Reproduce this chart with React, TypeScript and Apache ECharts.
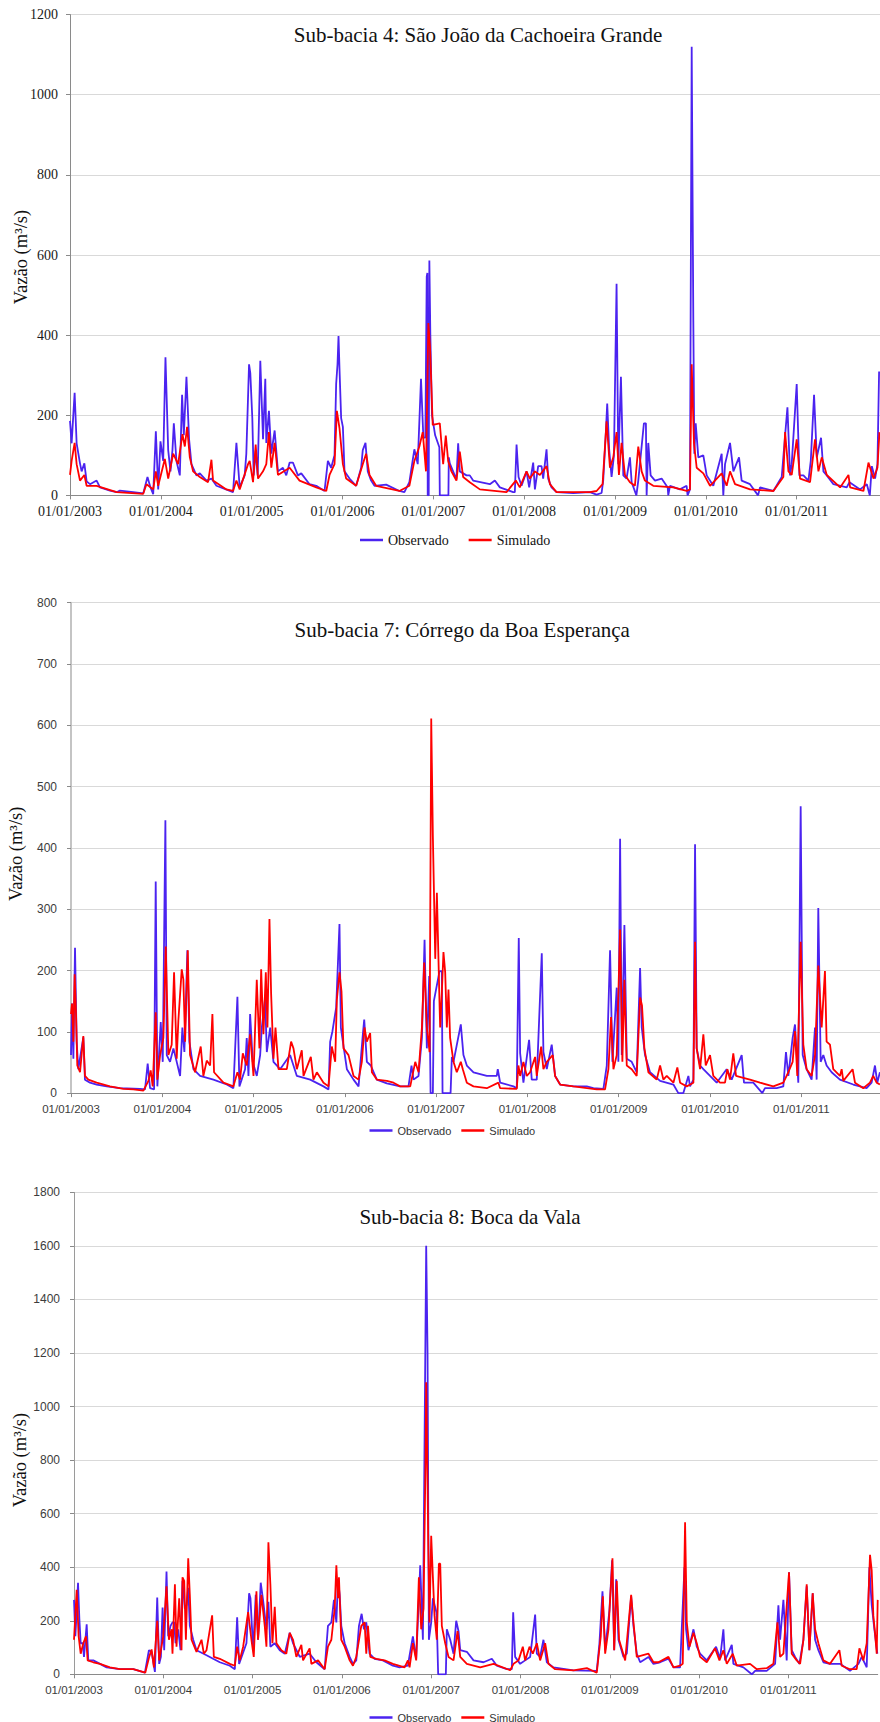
import React, { useEffect, useRef } from "react";
import * as echarts from "echarts";

// ---------- DATA (x = decimal year, y = vazão m³/s) ----------
const yearTicks = [2003, 2004, 2005, 2006, 2007, 2008, 2009, 2010, 2011];
const titles = [
  "Sub-bacia 4: São João da Cachoeira Grande",
  "Sub-bacia 7: Córrego da Boa Esperança",
  "Sub-bacia 8: Boca da Vala",
];
const yAxisName = "Vazão (m³/s)";
const seriesNames = ["Observado", "Simulado"];

const obs1: [number, number][] = [
  [2003.000,186],[2003.018,130],[2003.051,256],[2003.073,130],[2003.110,80],[2003.128,60],[2003.158,80],[2003.183,35],[2003.220,28],[2003.293,37],[2003.330,20],[2003.440,12],[2003.513,8],[2003.549,12],[2003.696,8],[2003.806,5],[2003.853,46],[2003.886,20],[2003.916,3],[2003.945,160],[2003.971,15],[2003.996,135],
  [2004.026,86],[2004.051,345],[2004.081,113],[2004.106,60],[2004.128,113],[2004.143,180],[2004.172,86],[2004.209,50],[2004.234,251],[2004.253,150],[2004.282,296],[2004.311,140],[2004.337,78],[2004.392,50],[2004.429,55],[2004.502,37],[2004.557,42],[2004.612,24],[2004.795,8],[2004.832,131],[2004.868,20],[2004.923,50],[2004.941,104],[2004.971,327],[2004.985,305],
  [2005.007,193],[2005.022,50],[2005.044,111],[2005.066,50],[2005.095,336],[2005.125,140],[2005.150,291],[2005.161,131],[2005.190,211],[2005.216,104],[2005.253,162],[2005.289,60],[2005.344,69],[2005.381,50],[2005.418,82],[2005.454,82],[2005.509,50],[2005.546,55],[2005.637,28],[2005.711,24],[2005.802,11],[2005.839,86],[2005.875,69],[2005.912,100],[2005.930,278],[2005.945,327],[2005.956,398],[2005.967,314],[2005.985,193],
  [2006.004,171],[2006.022,60],[2006.077,42],[2006.150,24],[2006.205,69],[2006.223,113],[2006.253,131],[2006.278,60],[2006.315,37],[2006.352,24],[2006.480,27],[2006.626,11],[2006.681,8],[2006.736,33],[2006.791,115],[2006.828,78],[2006.864,291],[2006.890,144],[2006.912,144],[2006.927,546],[2006.934,555],[2006.938,0],[2006.949,0],[2006.956,586],[2006.967,400],[2006.985,200],
  [2007.020,150],[2007.066,120],[2007.071,0],[2007.166,0],[2007.170,95],[2007.181,80],[2007.254,40],[2007.273,130],[2007.291,60],[2007.365,50],[2007.401,50],[2007.438,37],[2007.622,28],[2007.677,37],[2007.732,20],[2007.879,8],[2007.897,8],[2007.916,127],[2007.938,46],[2007.971,24],
  [2008.026,60],[2008.055,20],[2008.099,82],[2008.118,15],[2008.154,73],[2008.191,73],[2008.209,42],[2008.246,115],[2008.264,42],[2008.301,20],[2008.356,8],[2008.540,6],[2008.723,8],[2008.797,2],[2008.852,6],[2008.870,37],[2008.896,144],[2008.914,229],[2008.936,113],[2008.962,46],[2008.988,100],
  [2009.017,528],[2009.036,78],[2009.065,296],[2009.091,50],[2009.127,42],[2009.164,95],[2009.183,33],[2009.235,0],[2009.256,37],[2009.318,180],[2009.340,180],[2009.348,0],[2009.366,131],[2009.392,50],[2009.440,37],[2009.513,42],[2009.580,20],[2009.586,0],[2009.605,24],[2009.715,15],[2009.788,24],[2009.799,0],[2009.825,15],[2009.844,1120],[2009.862,434],[2009.873,104],[2009.888,180],[2009.917,95],[2009.972,100],
  [2010.009,50],[2010.082,24],[2010.174,104],[2010.192,0],[2010.211,78],[2010.266,131],[2010.303,60],[2010.365,95],[2010.394,37],[2010.486,28],[2010.575,0],[2010.596,20],[2010.743,11],[2010.835,46],[2010.872,149],[2010.898,220],[2010.927,50],[2010.945,78],
  [2011.000,278],[2011.030,50],[2011.074,50],[2011.129,37],[2011.155,86],[2011.191,251],[2011.221,95],[2011.268,144],[2011.294,60],[2011.331,50],[2011.404,28],[2011.551,20],[2011.581,33],[2011.698,15],[2011.772,28],[2011.805,0],[2011.827,73],[2011.863,42],[2011.889,78],[2011.907,309],
];

const sim1: [number, number][] = [
  [2003.000,51],[2003.018,86],[2003.051,131],[2003.073,78],[2003.110,37],[2003.158,51],[2003.183,24],[2003.293,24],[2003.513,8],[2003.806,4],[2003.842,28],[2003.916,15],[2003.945,60],[2003.971,24],
  [2004.044,91],[2004.081,42],[2004.136,104],[2004.190,78],[2004.238,153],[2004.264,122],[2004.289,171],[2004.319,95],[2004.355,60],[2004.429,46],[2004.520,33],[2004.557,89],[2004.575,37],[2004.722,15],[2004.795,11],[2004.832,37],[2004.868,15],[2004.960,78],[2004.978,86],
  [2005.015,33],[2005.044,127],[2005.070,42],[2005.125,60],[2005.161,78],[2005.190,158],[2005.216,69],[2005.253,131],[2005.289,51],[2005.418,69],[2005.527,37],[2005.711,20],[2005.821,11],[2005.857,51],[2005.912,78],[2005.938,211],[2005.967,167],
  [2006.004,78],[2006.040,42],[2006.150,24],[2006.223,78],[2006.260,104],[2006.297,51],[2006.370,24],[2006.626,11],[2006.736,24],[2006.791,86],[2006.846,122],[2006.883,158],[2006.919,60],[2006.945,430],[2006.963,372],[2006.993,176],
  [2007.071,180],[2007.108,78],[2007.137,149],[2007.163,86],[2007.199,60],[2007.254,37],[2007.291,109],[2007.328,46],[2007.401,33],[2007.512,15],[2007.805,8],[2007.908,37],[2007.952,20],
  [2008.026,60],[2008.062,42],[2008.118,60],[2008.173,51],[2008.246,73],[2008.283,28],[2008.356,8],[2008.723,8],[2008.797,11],[2008.863,28],[2008.907,185],[2008.944,69],[2008.981,95],
  [2009.017,158],[2009.043,51],[2009.072,131],[2009.109,51],[2009.164,33],[2009.219,24],[2009.256,122],[2009.293,60],[2009.329,37],[2009.421,24],[2009.642,20],[2009.788,11],[2009.825,15],[2009.844,327],[2009.869,131],[2009.899,69],[2009.972,55],
  [2010.046,24],[2010.174,55],[2010.229,24],[2010.266,60],[2010.321,28],[2010.486,15],[2010.743,11],[2010.853,46],[2010.872,158],[2010.909,60],[2010.945,51],
  [2011.000,140],[2011.037,42],[2011.147,33],[2011.202,140],[2011.239,60],[2011.276,95],[2011.331,51],[2011.478,20],[2011.570,51],[2011.588,20],[2011.735,11],[2011.790,82],[2011.845,42],[2011.889,69],[2011.911,158],
];

const obs2: [number, number][] = [
  [2003.000,62],[2003.011,146],[2003.026,56],[2003.044,237],[2003.062,84],[2003.080,39],[2003.135,91],[2003.153,22],[2003.208,17],[2003.281,14],[2003.391,11],[2003.537,8],[2003.756,7],[2003.811,6],[2003.840,48],[2003.866,8],[2003.910,6],[2003.928,345],[2003.946,11],[2003.983,116],
  [2004.005,51],[2004.034,445],[2004.049,62],[2004.085,51],[2004.122,73],[2004.158,51],[2004.195,28],[2004.220,107],[2004.242,67],[2004.275,233],[2004.297,84],[2004.341,39],[2004.414,28],[2004.560,22],[2004.706,14],[2004.779,8],[2004.823,157],[2004.845,11],[2004.907,39],[2004.925,90],[2004.944,28],[2004.962,129],[2004.991,51],
  [2005.035,28],[2005.072,62],[2005.090,107],[2005.126,154],[2005.145,67],[2005.182,107],[2005.218,51],[2005.291,39],[2005.400,62],[2005.474,28],[2005.620,22],[2005.766,11],[2005.821,6],[2005.839,84],[2005.864,101],[2005.905,140],[2005.941,276],[2005.956,107],[2005.978,84],
  [2006.022,39],[2006.095,22],[2006.150,11],[2006.197,96],[2006.212,120],[2006.241,51],[2006.284,45],[2006.350,22],[2006.460,16],[2006.606,11],[2006.697,11],[2006.730,45],[2006.752,22],[2006.807,28],[2006.844,90],[2006.873,250],[2006.898,73],[2006.924,191],[2006.939,0],[2006.964,0],[2006.975,150],
  [2007.037,199],[2007.062,199],[2007.070,0],[2007.158,0],[2007.172,59],[2007.190,51],[2007.270,112],[2007.299,62],[2007.336,45],[2007.409,34],[2007.555,28],[2007.664,28],[2007.675,39],[2007.701,17],[2007.847,11],[2007.883,8],[2007.905,253],[2007.920,65],[2007.956,17],
  [2008.018,87],[2008.047,22],[2008.102,22],[2008.157,228],[2008.175,67],[2008.212,39],[2008.266,79],[2008.303,28],[2008.358,14],[2008.504,11],[2008.650,11],[2008.723,8],[2008.832,7],[2008.869,45],[2008.905,233],[2008.931,51],[2008.978,172],[2008.996,51],
  [2009.015,415],[2009.033,62],[2009.062,274],[2009.088,56],[2009.142,51],[2009.197,34],[2009.234,204],[2009.252,107],[2009.288,62],[2009.343,34],[2009.453,20],[2009.599,14],[2009.653,0],[2009.708,0],[2009.763,28],[2009.781,11],[2009.818,22],[2009.836,406],[2009.854,73],[2009.891,45],[2009.927,39],
  [2010.000,28],[2010.073,17],[2010.182,39],[2010.237,22],[2010.347,62],[2010.372,17],[2010.474,17],[2010.573,0],[2010.602,8],[2010.730,8],[2010.803,11],[2010.832,67],[2010.858,28],[2010.905,90],[2010.931,112],[2010.967,17],[2010.993,468],
  [2011.015,62],[2011.058,39],[2011.113,22],[2011.150,107],[2011.168,22],[2011.186,302],[2011.212,51],[2011.241,62],[2011.277,45],[2011.332,34],[2011.423,22],[2011.569,14],[2011.715,8],[2011.770,17],[2011.807,45],[2011.832,17],[2011.861,34],
];

const sim2: [number, number][] = [
  [2003.000,129],[2003.011,146],[2003.026,84],[2003.040,194],[2003.055,129],[2003.069,45],[2003.099,34],[2003.135,93],[2003.153,28],[2003.190,22],[2003.281,17],[2003.427,11],[2003.574,7],[2003.683,6],[2003.793,4],[2003.848,20],[2003.873,37],[2003.895,11],[2003.928,132],[2003.946,22],[2003.976,62],
  [2004.012,90],[2004.038,239],[2004.067,62],[2004.103,79],[2004.129,197],[2004.158,56],[2004.176,118],[2004.213,202],[2004.231,185],[2004.250,84],[2004.279,233],[2004.304,62],[2004.359,34],[2004.421,76],[2004.450,28],[2004.487,53],[2004.524,45],[2004.549,129],[2004.567,34],[2004.670,17],[2004.779,11],[2004.823,34],[2004.852,22],[2004.882,65],[2004.925,45],[2004.962,96],[2004.999,28],
  [2005.035,185],[2005.064,73],[2005.083,202],[2005.108,96],[2005.134,197],[2005.152,107],[2005.174,284],[2005.192,163],[2005.218,56],[2005.240,107],[2005.273,39],[2005.364,39],[2005.411,84],[2005.437,73],[2005.474,39],[2005.528,70],[2005.547,28],[2005.627,59],[2005.656,22],[2005.693,34],[2005.766,17],[2005.821,11],[2005.857,76],[2005.894,51],[2005.912,152],[2005.941,197],[2005.963,166],[2005.985,73],
  [2006.040,62],[2006.095,28],[2006.150,22],[2006.186,51],[2006.215,107],[2006.241,84],[2006.277,98],[2006.296,34],[2006.350,22],[2006.460,20],[2006.533,17],[2006.606,11],[2006.716,11],[2006.771,51],[2006.807,34],[2006.844,107],[2006.869,213],[2006.898,107],[2006.928,67],[2006.946,611],[2006.964,419],[2006.990,219],
  [2007.008,327],[2007.037,146],[2007.044,107],[2007.062,163],[2007.080,230],[2007.099,197],[2007.117,107],[2007.135,169],[2007.153,90],[2007.190,51],[2007.226,34],[2007.270,51],[2007.292,39],[2007.336,17],[2007.409,11],[2007.555,8],[2007.682,17],[2007.701,8],[2007.883,7],[2007.901,45],[2007.920,28],[2007.956,51],[2007.993,28],
  [2008.029,34],[2008.084,59],[2008.102,28],[2008.150,76],[2008.175,39],[2008.212,51],[2008.277,62],[2008.303,28],[2008.358,14],[2008.504,11],[2008.759,6],[2008.850,6],[2008.887,39],[2008.916,124],[2008.942,39],[2008.978,62],
  [2009.015,267],[2009.040,51],[2009.062,185],[2009.088,45],[2009.142,39],[2009.197,28],[2009.234,156],[2009.255,143],[2009.281,73],[2009.325,34],[2009.416,22],[2009.453,45],[2009.489,22],[2009.526,28],[2009.599,17],[2009.642,42],[2009.672,17],[2009.745,11],[2009.818,17],[2009.836,247],[2009.854,73],[2009.891,39],[2009.927,96],[2009.953,45],
  [2010.000,62],[2010.036,28],[2010.109,17],[2010.164,17],[2010.190,39],[2010.219,22],[2010.255,65],[2010.285,28],[2010.365,25],[2010.438,22],[2010.547,17],[2010.693,11],[2010.803,17],[2010.858,34],[2010.905,51],[2010.931,101],[2010.956,28],[2010.993,247],
  [2011.022,79],[2011.058,39],[2011.113,28],[2011.150,62],[2011.186,208],[2011.223,107],[2011.259,199],[2011.277,84],[2011.314,79],[2011.350,39],[2011.423,28],[2011.442,39],[2011.460,20],[2011.562,39],[2011.588,17],[2011.679,8],[2011.752,17],[2011.788,28],[2011.825,17],[2011.861,14],
];

const obs3: [number, number][] = [
  [2003.000,278],[2003.015,142],[2003.030,232],[2003.045,342],[2003.060,207],[2003.075,116],[2003.097,116],[2003.112,65],[2003.142,187],[2003.160,52],[2003.216,52],[2003.291,39],[2003.365,26],[2003.514,19],[2003.664,19],[2003.794,6],[2003.839,90],[2003.869,84],[2003.906,9],[2003.932,287],[2003.954,39],[2003.973,65],[2003.992,249],
  [2004.010,90],[2004.036,384],[2004.055,142],[2004.081,181],[2004.103,194],[2004.122,194],[2004.137,116],[2004.167,168],[2004.193,90],[2004.215,349],[2004.241,245],[2004.260,258],[2004.279,323],[2004.297,181],[2004.335,129],[2004.372,90],[2004.484,71],[2004.558,58],[2004.633,45],[2004.745,32],[2004.801,19],[2004.827,213],[2004.849,39],[2004.931,116],[2004.961,303],[2004.976,284],
  [2005.006,90],[2005.035,297],[2005.061,129],[2005.091,342],[2005.117,278],[2005.155,168],[2005.177,271],[2005.199,103],[2005.248,116],[2005.304,90],[2005.360,77],[2005.416,155],[2005.453,116],[2005.528,65],[2005.639,77],[2005.714,45],[2005.807,19],[2005.844,181],[2005.882,194],[2005.911,278],[2005.938,194],[2005.956,355],[2005.975,297],[2005.993,181],
  [2006.031,116],[2006.087,65],[2006.124,39],[2006.161,52],[2006.191,181],[2006.221,226],[2006.247,168],[2006.273,194],[2006.310,77],[2006.366,58],[2006.459,52],[2006.571,32],[2006.646,26],[2006.739,32],[2006.758,71],[2006.795,142],[2006.832,58],[2006.862,284],[2006.877,407],[2006.907,129],[2006.944,1601],[2006.959,1201],[2006.974,129],
  [2007.000,194],[2007.019,284],[2007.060,230],[2007.078,0],[2007.164,0],[2007.175,168],[2007.213,129],[2007.250,77],[2007.280,200],[2007.306,161],[2007.325,90],[2007.399,84],[2007.474,52],[2007.586,45],[2007.679,58],[2007.735,32],[2007.847,19],[2007.903,19],[2007.918,232],[2007.940,65],[2007.996,39],
  [2008.052,52],[2008.108,65],[2008.164,223],[2008.183,77],[2008.220,65],[2008.257,129],[2008.295,45],[2008.369,26],[2008.593,15],[2008.854,13],[2008.884,116],[2008.918,310],[2008.948,90],[2008.996,239],
  [2009.026,426],[2009.049,90],[2009.071,355],[2009.097,129],[2009.153,65],[2009.190,77],[2009.239,291],[2009.265,181],[2009.302,77],[2009.340,45],[2009.433,65],[2009.489,39],[2009.563,45],[2009.657,58],[2009.713,26],[2009.787,26],[2009.836,400],[2009.854,168],[2009.881,90],[2009.937,168],[2009.974,103],
  [2010.011,77],[2010.086,52],[2010.190,103],[2010.235,58],[2010.272,168],[2010.291,52],[2010.366,110],[2010.384,39],[2010.496,26],[2010.590,0],[2010.627,13],[2010.757,13],[2010.851,39],[2010.888,258],[2010.907,129],[2010.944,278],[2010.981,52],
  [2011.007,381],[2011.037,90],[2011.075,65],[2011.123,39],[2011.168,129],[2011.205,329],[2011.235,90],[2011.272,303],[2011.299,129],[2011.336,90],[2011.392,45],[2011.466,39],[2011.578,39],[2011.690,13],[2011.784,39],[2011.821,65],[2011.877,26],[2011.907,400],[2011.933,258],[2011.963,168],[2011.996,77],
];

const sim3: [number, number][] = [
  [2003.000,129],[2003.030,316],[2003.052,142],[2003.075,77],[2003.104,116],[2003.134,142],[2003.153,52],[2003.216,45],[2003.291,39],[2003.403,26],[2003.514,19],[2003.664,19],[2003.798,6],[2003.842,65],[2003.869,93],[2003.895,26],[2003.932,200],[2003.954,52],[2003.999,142],
  [2004.036,329],[2004.063,129],[2004.092,168],[2004.103,77],[2004.130,336],[2004.148,103],[2004.178,284],[2004.204,90],[2004.215,362],[2004.234,349],[2004.253,129],[2004.279,433],[2004.297,297],[2004.316,129],[2004.372,84],[2004.428,129],[2004.454,77],[2004.484,90],[2004.547,220],[2004.566,65],[2004.633,58],[2004.745,39],[2004.801,32],[2004.827,103],[2004.856,52],[2004.894,103],[2004.950,232],[2004.987,129],
  [2005.013,65],[2005.043,310],[2005.061,129],[2005.099,297],[2005.136,181],[2005.155,103],[2005.177,493],[2005.199,336],[2005.222,116],[2005.248,252],[2005.267,116],[2005.322,90],[2005.378,77],[2005.416,155],[2005.453,129],[2005.490,65],[2005.546,110],[2005.565,52],[2005.639,97],[2005.658,39],[2005.733,52],[2005.807,19],[2005.844,103],[2005.882,129],[2005.919,245],[2005.938,407],[2005.956,284],[2005.967,362],[2005.993,129],
  [2006.031,103],[2006.087,52],[2006.124,32],[2006.161,65],[2006.198,142],[2006.217,181],[2006.254,194],[2006.273,77],[2006.292,181],[2006.318,65],[2006.385,58],[2006.478,52],[2006.571,39],[2006.702,26],[2006.739,52],[2006.758,26],[2006.795,116],[2006.832,52],[2006.862,362],[2006.888,168],[2006.914,245],[2006.937,814],[2006.944,1091],[2006.955,826],[2006.966,517],[2006.981,194],
  [2007.000,517],[2007.019,362],[2007.037,220],[2007.063,129],[2007.086,413],[2007.101,413],[2007.119,181],[2007.157,116],[2007.194,65],[2007.250,52],[2007.295,161],[2007.325,65],[2007.399,39],[2007.549,26],[2007.698,39],[2007.884,15],[2007.922,39],[2007.978,52],
  [2008.026,103],[2008.052,52],[2008.101,103],[2008.138,77],[2008.183,116],[2008.220,52],[2008.276,116],[2008.313,39],[2008.388,19],[2008.593,15],[2008.743,23],[2008.854,6],[2008.899,142],[2008.922,291],[2008.948,77],[2008.985,168],
  [2009.030,433],[2009.049,90],[2009.078,349],[2009.104,129],[2009.172,52],[2009.239,297],[2009.265,194],[2009.302,65],[2009.433,77],[2009.489,45],[2009.545,45],[2009.657,65],[2009.713,26],[2009.787,32],[2009.817,39],[2009.843,568],[2009.862,194],[2009.892,103],[2009.937,155],[2009.974,116],
  [2010.011,65],[2010.086,45],[2010.179,97],[2010.228,52],[2010.272,90],[2010.310,39],[2010.377,77],[2010.422,32],[2010.571,39],[2010.646,19],[2010.757,23],[2010.832,39],[2010.877,194],[2010.907,65],[2010.944,77],
  [2011.007,381],[2011.037,77],[2011.093,52],[2011.131,39],[2011.168,129],[2011.205,336],[2011.235,90],[2011.272,303],[2011.299,168],[2011.336,116],[2011.392,52],[2011.466,39],[2011.571,90],[2011.597,32],[2011.690,19],[2011.765,19],[2011.795,97],[2011.840,52],[2011.877,116],[2011.914,446],[2011.933,387],[2011.951,220],[2011.970,155],[2011.989,77],[2012.000,278],
];

const yMax = [1200, 800, 1800];
const yStep = [200, 100, 200];
const xMax = [2011.917, 2011.862, 2012];

// ---------- STYLE ----------
const BLUE = "#4B23F0";
const RED = "#FF0000";
const SERIF = '"Liberation Serif", "Times New Roman", serif';
const SANS = '"Liberation Sans", Arial, sans-serif';

const panels = [
  { grid: { left: 70, top: 14.6, width: 810, height: 480.8 }, font: SERIF, tickSize: 14, xSize: 14, labelColor: "#1a1a1a",
    yMargin: 12, xMargin: 9, yAxisColor: "#8a8a8a", yAxisWidth: 1,
    titleX: 478, titleY: 34.6, nameX: 20.5, nameY: 257,
    legend: { left: 355, top: 528, gap: 20, size: 14, font: SERIF, color: "#111" } },
  { grid: { left: 71, top: 602.7, width: 809, height: 490.4 }, font: SANS, tickSize: 12, xSize: 11.5, labelColor: "#3c3c3c",
    yMargin: 14, xMargin: 10, yAxisColor: "#c4c4c4", yAxisWidth: 2,
    titleX: 462.2, titleY: 630, nameX: 15.8, nameY: 853.8,
    legend: { left: 364.5, top: 1120, gap: 10, size: 11, font: SANS, color: "#333" } },
  { grid: { left: 74, top: 1192.4, width: 803.7, height: 481.9 }, font: SANS, tickSize: 12, xSize: 11.5, labelColor: "#3c3c3c",
    yMargin: 14, xMargin: 10, yAxisColor: "#9a9a9a", yAxisWidth: 1,
    titleX: 470, titleY: 1217.3, nameX: 20, nameY: 1460,
    legend: { left: 364.5, top: 1707, gap: 10, size: 11, font: SANS, color: "#333" } },
];

const obsSets = [obs1, obs2, obs3];
const simSets = [sim1, sim2, sim3];

function xLabel(v: number): string {
  const r = Math.round(v);
  return Math.abs(v - r) < 1e-6 && yearTicks.includes(r) ? `01/01/${r}` : "";
}

function yLabel(v: number): string {
  return String(v);
}

function buildOption() {
  const grid: any[] = [];
  const xAxis: any[] = [];
  const yAxis: any[] = [];
  const series: any[] = [];
  const legend: any[] = [];
  const graphic: any[] = [];

  panels.forEach((p, i) => {
    grid.push({ ...p.grid, containLabel: false });
    xAxis.push({
      type: "value", gridIndex: i, min: 2003, max: xMax[i], interval: 1,
      axisLine: { show: true, onZero: false, lineStyle: { color: "#8a8a8a", width: 1 } },
      axisTick: { show: true, length: 4, lineStyle: { color: "#8a8a8a" } },
      splitLine: { show: false },
      axisLabel: { formatter: xLabel, showMaxLabel: false, margin: p.xMargin, fontFamily: p.font, fontSize: p.xSize, color: p.labelColor },
    });
    yAxis.push({
      type: "value", gridIndex: i, min: 0, max: yMax[i], interval: yStep[i],
      axisLine: { show: true, lineStyle: { color: p.yAxisColor, width: p.yAxisWidth } },
      axisTick: { show: true, length: 4, lineStyle: { color: "#8a8a8a" } },
      splitLine: { show: true, lineStyle: { color: "#d9d9d9", width: 1 } },
      axisLabel: { formatter: yLabel, margin: p.yMargin, fontFamily: p.font, fontSize: p.tickSize, color: p.labelColor },
    });
    series.push({
      name: seriesNames[0], type: "line", xAxisIndex: i, yAxisIndex: i, data: obsSets[i],
      symbol: "none", showSymbol: false, z: 2,
      lineStyle: { color: BLUE, width: 1.8 }, itemStyle: { color: BLUE },
    });
    series.push({
      name: seriesNames[1], type: "line", xAxisIndex: i, yAxisIndex: i, data: simSets[i],
      symbol: "none", showSymbol: false, z: 3,
      lineStyle: { color: RED, width: 1.8 }, itemStyle: { color: RED },
    });
    legend.push({
      data: seriesNames, left: p.legend.left, top: p.legend.top, orient: "horizontal",
      icon: "rect", itemWidth: 23, itemHeight: 2.5, itemGap: p.legend.gap, selectedMode: false,
      textStyle: { fontFamily: p.legend.font, fontSize: p.legend.size, lineHeight: p.legend.size, color: p.legend.color },
    });
    graphic.push({
      type: "text", x: p.titleX, y: p.titleY, silent: true,
      style: { text: titles[i], fontFamily: SERIF, fontSize: 21, fill: "#111", align: "center", verticalAlign: "middle" },
    });
    graphic.push({
      type: "text", x: p.nameX, y: p.nameY, rotation: Math.PI / 2, silent: true,
      style: { text: yAxisName, fontFamily: SERIF, fontSize: 18.5, fill: "#111", align: "center", verticalAlign: "middle" },
    });
  });

  return { animation: false, backgroundColor: "#ffffff", grid, xAxis, yAxis, series, legend, graphic };
}

export default function App() {
  const ref = useRef<HTMLDivElement>(null);
  useEffect(() => {
    if (!ref.current) return;
    const chart = echarts.init(ref.current, undefined, { renderer: "svg" });
    chart.setOption(buildOption() as any);
    return () => chart.dispose();
  }, []);
  return (
    <div
      ref={ref}
      style={{ position: "absolute", left: 0, top: 0, width: 880, height: 1722, background: "#fff" }}
    />
  );
}
